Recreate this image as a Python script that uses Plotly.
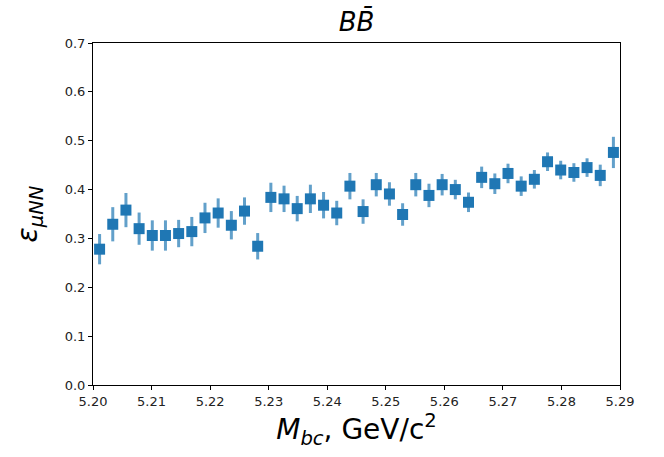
import plotly.graph_objects as go

x_lo, x_hi, n_bins = 5.20, 5.29, 40
bin_w = (x_hi - x_lo) / n_bins
mbc = [x_lo + bin_w * (i + 0.5) for i in range(n_bins)]

eff = [0.278, 0.329, 0.358, 0.320, 0.306, 0.306, 0.310, 0.314, 0.342, 0.352,
       0.327, 0.356, 0.284, 0.384, 0.381, 0.361, 0.381, 0.368, 0.352, 0.407,
       0.355, 0.410, 0.391, 0.349, 0.410, 0.388, 0.410, 0.400, 0.374, 0.425,
       0.412, 0.433, 0.407, 0.421, 0.457, 0.440, 0.435, 0.445, 0.429, 0.476]
err = [0.031, 0.035, 0.035, 0.033, 0.031, 0.031, 0.028, 0.030, 0.031, 0.030,
       0.029, 0.028, 0.027, 0.030, 0.027, 0.026, 0.029, 0.027, 0.025, 0.027,
       0.025, 0.024, 0.024, 0.023, 0.024, 0.024, 0.022, 0.020, 0.020, 0.022,
       0.021, 0.020, 0.020, 0.019, 0.019, 0.019, 0.019, 0.019, 0.022, 0.032]

x_ticks = [5.20, 5.21, 5.22, 5.23, 5.24, 5.25, 5.26, 5.27, 5.28, 5.29]
y_ticks = [0.0, 0.1, 0.2, 0.3, 0.4, 0.5, 0.6, 0.7]

fig = go.Figure()
fig.add_trace(go.Scatter(
    x=mbc, y=eff, mode="markers",
    marker=dict(symbol="square", size=11, color="#1f77b4"),
    error_y=dict(type="data", array=err, visible=True, thickness=3,
                 width=0, color="rgba(31,119,180,0.7)"),
    showlegend=False,
))

font = "DejaVu Sans"
axis_common = dict(showgrid=False, zeroline=False, showline=True, linecolor="black",
                   linewidth=1, mirror=True, ticks="outside", ticklen=4,
                   tickcolor="black", tickfont=dict(family=font, size=13, color="#222"))

W, H = 664, 457
L, R, T, B = 93, 44, 43, 72
fig.update_layout(
    width=W, height=H,
    margin=dict(l=L, r=R, t=T, b=B),
    plot_bgcolor="white", paper_bgcolor="white",
    title=dict(text="<i>BB\u0304</i>", x=(L + (W - L - R) / 2) / W, xanchor="center",
               y=1 - 22 / H, yanchor="middle",
               font=dict(family=font, size=26, color="black")),
    xaxis=dict(range=[x_lo, x_hi], tickvals=x_ticks,
               ticktext=[f"{v:.2f}" for v in x_ticks],
               title=dict(text="<i>M</i><sub><i>bc</i></sub>, GeV/c<sup>2</sup>",
                          font=dict(family=font, size=28, color="black"), standoff=11),
               **axis_common),
    yaxis=dict(range=[0, 0.7], tickvals=y_ticks,
               ticktext=[f"{v:.1f}" for v in y_ticks],
               title=dict(text="<i>ε</i><sub><i>μNN</i></sub>",
                          font=dict(family=font, size=28, color="black"), standoff=18),
               **axis_common),
)

fig.write_html("out.html", config={"displayModeBar": False},
               post_script="document.body.style.margin='0';")
